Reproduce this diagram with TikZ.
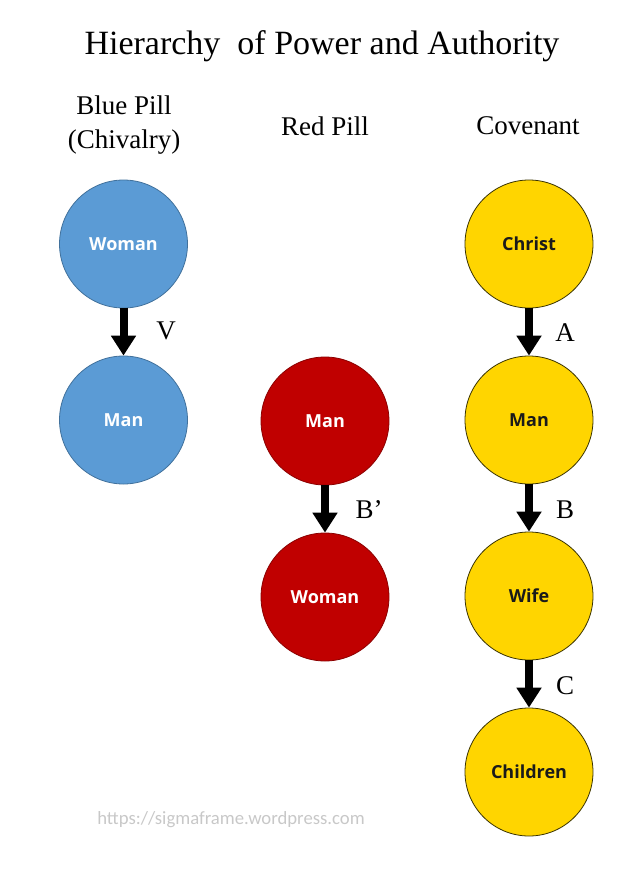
\documentclass[tikz,border=0pt]{standalone}
\usepackage{fontspec}
\setmainfont{Liberation Serif}
\newfontfamily\nodefont{Open Sans}
\newfontfamily\markfont{Carlito}
\usetikzlibrary{arrows.meta}
\definecolor{bluefill}{HTML}{5B9BD5}
\definecolor{blueline}{HTML}{41719C}
\definecolor{redfill}{HTML}{C00000}
\definecolor{redline}{HTML}{8B0000}
\definecolor{yellowfill}{HTML}{FFD500}
\definecolor{yellowline}{HTML}{3A3300}
\definecolor{markgray}{HTML}{C8C8C8}
\definecolor{darktext}{HTML}{1A1A1A}
\tikzset{
  ball/.style={circle, minimum size=128pt, inner sep=0pt, line width=0.8pt, font=\nodefont\bfseries\fontsize{18}{22}\selectfont},
  blueball/.style={ball, draw=blueline, fill=bluefill, text=white},
  redball/.style={ball, draw=redline, fill=redfill, text=white},
  yellowball/.style={ball, draw=yellowline, fill=yellowfill, text=darktext},
  flow/.style={line width=8pt, -{Triangle[width=24pt,length=20pt]}, shorten >=0pt, shorten <=0pt},
  lbl/.style={font=\fontsize{27}{30}\selectfont},
  head/.style={font=\fontsize{27}{34}\selectfont, align=center},
}
\begin{document}
\begin{tikzpicture}[x=1pt,y=-1pt]
\useasboundingbox (0,0) rectangle (640,871);
\node[font=\fontsize{34}{37}\selectfont] (title) at (322,46) {Hierarchy\ \ of Power and Authority};
\node[head] (hblue) at (124,125) {Blue Pill\\(Chivalry)};
\node[head] (hred) at (325,126) {Red Pill};
\node[head] (hcov) at (528,126) {Covenant};

\node[blueball] (bw) at (123.5,244) {Woman};
\node[blueball] (bm) at (123.5,420) {Man};
\node[redball] (rm) at (325,421) {Man};
\node[redball] (rw) at (325,597) {Woman};
\node[yellowball] (yc) at (529,244) {Christ};
\node[yellowball] (ym) at (529,420) {Man};
\node[yellowball] (yw) at (529,596) {Wife};
\node[yellowball] (ych) at (529,772) {Children};

\draw[flow] (bw.south) -- (bm.north);
\draw[flow] (rm.south) -- (rw.north);
\draw[flow] (yc.south) -- (ym.north);
\draw[flow] (ym.south) -- (yw.north);
\draw[flow] (yw.south) -- (ych.north);

\node[lbl] (lv) at (166,331) {V};
\node[lbl] (lbp) at (369,510) {B’};
\node[lbl] (la) at (565,333) {A};
\node[lbl] (lb) at (565,510) {B};
\node[lbl] (lc) at (565,686) {C};

\node[font=\markfont\fontsize{18.7}{22}\selectfont, text=markgray] (mark) at (231,820) {https://sigmaframe.wordpress.com};
\end{tikzpicture}
\end{document}
